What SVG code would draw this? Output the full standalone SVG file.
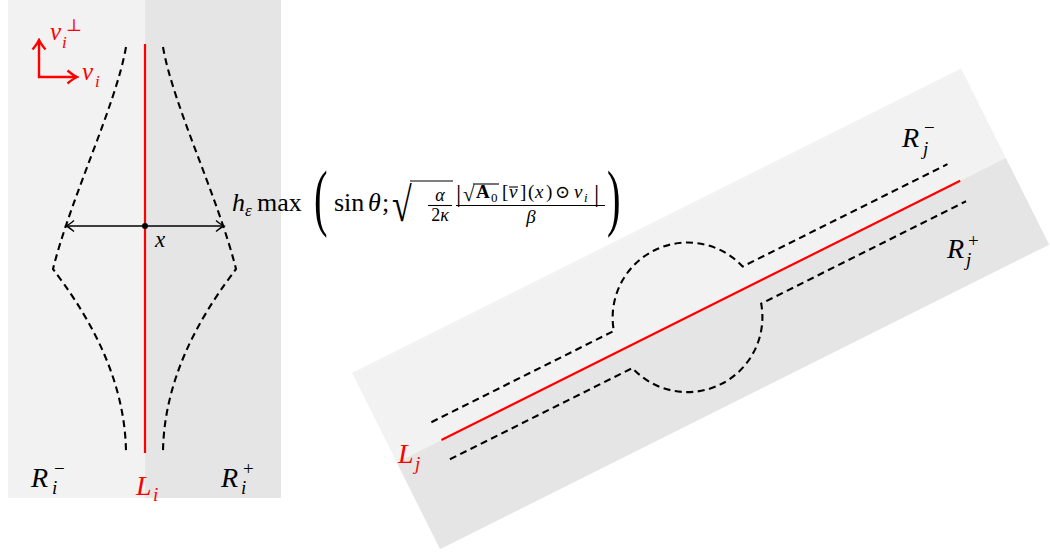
<svg xmlns="http://www.w3.org/2000/svg" width="1050" height="558" viewBox="0 0 1050 558">
<defs>
<style>
.t{font-family:"Liberation Serif","DejaVu Serif",serif;fill:#000}
.i{font-style:italic}
.r{fill:#ff0000}
.dash{fill:none;stroke:#000;stroke-width:2.1;stroke-dasharray:7 4.5}
.red{fill:none;stroke:#ff0000;stroke-width:2.2}
.light{fill:#f2f2f2}
.dark{fill:#e5e5e5}
.rule{stroke:#000;stroke-width:1.1}
</style>
<marker id="ah" viewBox="-10 -7 12 14" markerWidth="12" markerHeight="14" refX="0" refY="0" orient="auto-start-reverse" markerUnits="userSpaceOnUse">
<path d="M-8,-5.5 Q-3,-1.2 0,0 Q-3,1.2 -8,5.5" fill="none" stroke="#000" stroke-width="1.4"/>
</marker>
<marker id="ahr" viewBox="-12 -8 14 16" markerWidth="14" markerHeight="16" refX="0" refY="0" orient="auto-start-reverse" markerUnits="userSpaceOnUse">
<path d="M-9.5,-6.5 Q-3.5,-1.5 0,0 Q-3.5,1.5 -9.5,6.5" fill="none" stroke="#ff0000" stroke-width="2.3"/>
</marker>
</defs>

<g id="left-panel">
<rect class="light" x="8" y="0" width="137" height="498"/>
<rect class="dark" x="145" y="0" width="136" height="498"/>
</g>

<g id="right-panel" transform="translate(352,373) rotate(-26.565)">
<rect class="light" x="0" y="0" width="681" height="100"/>
<rect class="dark" x="0" y="100" width="681" height="97"/>
</g>

<g id="connectors">
<line id="Li" class="red" x1="145" y1="44" x2="145" y2="453"/>
<path class="dash" d="M126,47 C116,105 71,197 53,269 C80,305 125,370 126,452"/>
<path class="dash" d="M163,47 C173,105 218,197 236,269 C209,305 164,370 163,452"/>
<line x1="66" y1="226" x2="224" y2="226" stroke="#000" stroke-width="1.4" marker-start="url(#ah)" marker-end="url(#ah)"/>
<circle cx="145" cy="226" r="3" fill="#000"/>
<polyline points="39,40 39,77 77,77" fill="none" stroke="#ff0000" stroke-width="2.4" marker-start="url(#ahr)" marker-end="url(#ahr)"/>
<g transform="translate(352,373) rotate(-26.565)">
<line id="Lj" class="red" x1="50" y1="100" x2="630" y2="100"/>
<path class="dash" d="M49,79.5 L253,79.5 A75,75 0 0 1 397,79.5 L626,79.5"/>
<path class="dash" d="M49,121 L253,121 A75,75 0 0 0 397,121 L626,121"/>
</g>
</g>

<g id="labels">
<text class="t i r" x="50" y="40" font-size="25">ν</text>
<text class="t i r" x="62" y="48" font-size="17">i</text>
<text class="t r" x="66" y="31" font-size="17">⊥</text>
<text class="t i r" x="82" y="80" font-size="25">ν</text>
<text class="t i r" x="95" y="87" font-size="17">i</text>

<text class="t i" x="155" y="247" font-size="23">x</text>

<text class="t i" x="31" y="487" font-size="28">R</text>
<text class="t" x="54" y="475" font-size="19">−</text>
<text class="t i" x="52" y="494" font-size="19">i</text>
<text class="t i r" x="136" y="495" font-size="28">L</text>
<text class="t i r" x="153" y="501" font-size="19">i</text>
<text class="t i" x="221" y="487" font-size="28">R</text>
<text class="t" x="243" y="475" font-size="19">+</text>
<text class="t i" x="241" y="494" font-size="19">i</text>

<text class="t i" x="902" y="147" font-size="28">R</text>
<text class="t" x="924" y="134" font-size="19">−</text>
<text class="t i" x="923" y="155" font-size="19">j</text>
<text class="t i" x="947" y="258" font-size="28">R</text>
<text class="t" x="968" y="247" font-size="19">+</text>
<text class="t i" x="966" y="266" font-size="19">j</text>
<text class="t i r" x="398" y="463" font-size="28">L</text>
<text class="t i r" x="415" y="470" font-size="19">j</text>
</g>

<g id="formula">
<text class="t i" x="232" y="211" font-size="26">h</text>
<text class="t i" x="245" y="216" font-size="17">ε</text>
<text class="t" x="257" y="211" font-size="26">max</text>
<text class="t" x="0" y="0" font-size="74" transform="translate(314,222) scale(0.55,1)">(</text>
<text class="t" x="334" y="211" font-size="26">sin</text>
<text class="t i" x="368" y="211" font-size="26">θ</text>
<text class="t" x="382" y="211" font-size="26">;</text>
<text class="t" x="0" y="0" font-size="48" transform="translate(392,221) scale(0.75,1)">√</text>
<line class="rule" x1="410" y1="181" x2="453" y2="181"/>
<text class="t i" x="440" y="201" font-size="18" text-anchor="middle">α</text>
<line class="rule" x1="428" y1="205.5" x2="452" y2="205.5"/>
<text class="t" x="440" y="221" font-size="18" text-anchor="middle">2<tspan font-style="italic">κ</tspan></text>

<text class="t" x="456" y="202" font-size="26">|</text>
<text class="t" x="463" y="201" font-size="21">√</text>
<line class="rule" x1="473" y1="184" x2="499" y2="184"/>
<text class="t" x="476" y="198" font-size="19" font-weight="bold">A</text>
<text class="t" x="491" y="202" font-size="13">0</text>
<text class="t" x="502" y="198" font-size="19">[</text>
<text class="t i" x="509" y="198" font-size="19">v</text>
<line class="rule" x1="509" y1="187" x2="518" y2="187"/>
<text class="t" x="520" y="198" font-size="19">]</text>
<text class="t" x="528" y="198" font-size="19">(</text>
<text class="t i" x="535" y="198" font-size="19">x</text>
<text class="t" x="546" y="198" font-size="19">)</text>
<text class="t" x="555" y="198" font-size="18">⊙</text>
<text class="t i" x="574" y="198" font-size="19">ν</text>
<text class="t i" x="584" y="202" font-size="13">i</text>
<text class="t" x="594" y="202" font-size="26">|</text>
<line class="rule" x1="456" y1="205.5" x2="605" y2="205.5"/>
<text class="t i" x="531" y="223" font-size="19" text-anchor="middle">β</text>
<text class="t" x="0" y="0" font-size="74" transform="translate(607,222) scale(0.55,1)">)</text>
</g>
</svg>
